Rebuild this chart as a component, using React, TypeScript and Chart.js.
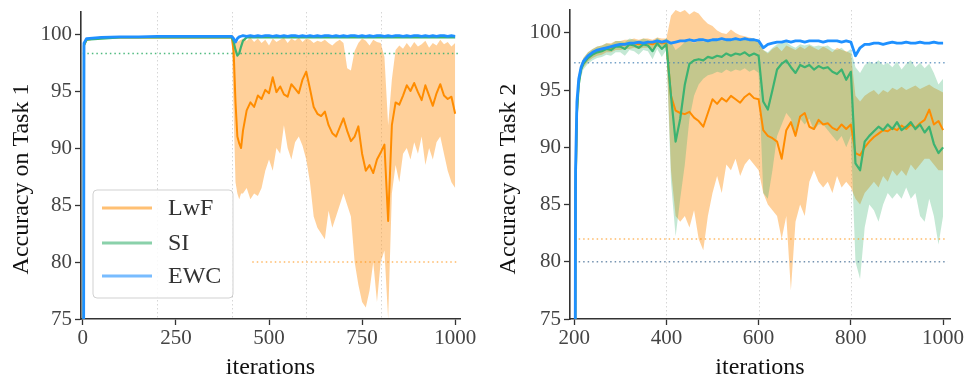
import React, { useEffect, useRef } from 'react';
import { Chart, registerables } from 'chart.js';
Chart.register(...registerables);

// ---------------- shared ticks / labels ----------------
const yTicks = [75, 80, 85, 90, 95, 100];
const xTicksT1 = [0, 250, 500, 750, 1000];
const xTicksT2 = [200, 400, 600, 800, 1000];
const seriesNames = ['LwF', 'SI', 'EWC'];
const taskBoundariesT1 = [200, 400, 600, 800];
const taskBoundariesT2 = [400, 600, 800];

// ---------------- Task 1 (left panel) ----------------
const iterT1 = [0, 3, 10, 50, 100, 150, 200, 250, 300, 350, 400, 405, 410, 415, 420, 425,
  430, 440, 450, 460, 470, 480, 490, 500, 510, 520, 530, 540, 550, 560, 570, 580, 590, 600,
  610, 620, 630, 640, 650, 660, 670, 680, 690, 700, 710, 720, 730, 740, 750, 760, 770, 780, 790, 800,
  810, 820, 830, 840, 850, 860, 870, 880, 890, 900, 910, 920, 930, 940, 950, 960, 970, 980, 990, 1000];

const ewcT1 = [10, 99.2, 99.6, 99.7, 99.75, 99.75, 99.8, 99.8, 99.8, 99.8, 99.8, 99.6, 99.3, 99.6, 99.75, 99.8,
  99.85, 99.8, 99.85, 99.8, 99.85, 99.8, 99.85, 99.85, 99.8, 99.85, 99.8, 99.85, 99.8, 99.85, 99.85, 99.8, 99.85, 99.8,
  99.85, 99.8, 99.85, 99.8, 99.85, 99.85, 99.8, 99.85, 99.8, 99.85, 99.8, 99.85, 99.85, 99.8, 99.85, 99.8, 99.85, 99.8, 99.85, 99.85,
  99.8, 99.85, 99.8, 99.85, 99.85, 99.8, 99.85, 99.8, 99.85, 99.85, 99.8, 99.85, 99.8, 99.85, 99.8, 99.85, 99.85, 99.8, 99.85, 99.8];

const siT1 = [10, 99.0, 99.5, 99.6, 99.7, 99.7, 99.7, 99.7, 99.7, 99.7, 99.7, 99.3, 98.6, 98.1, 98.3, 98.9,
  99.4, 99.7, 99.7, 99.7, 99.7, 99.7, 99.7, 99.7, 99.7, 99.7, 99.7, 99.7, 99.7, 99.7, 99.7, 99.7, 99.7, 99.7,
  99.7, 99.7, 99.7, 99.7, 99.7, 99.7, 99.7, 99.7, 99.7, 99.7, 99.7, 99.7, 99.7, 99.7, 99.7, 99.7, 99.7, 99.7, 99.7, 99.7,
  99.7, 99.7, 99.7, 99.7, 99.7, 99.7, 99.7, 99.7, 99.7, 99.7, 99.7, 99.7, 99.7, 99.7, 99.7, 99.7, 99.7, 99.7, 99.7, 99.7];

const lwfT1 = [10, 99.0, 99.5, 99.7, 99.7, 99.7, 99.7, 99.7, 99.7, 99.7, 99.7, 98.5, 94.0, 91.0, 90.4, 90.0,
  91.5, 93.3, 94.0, 93.6, 94.6, 94.3, 95.1, 94.8, 96.2, 94.9, 95.4, 94.7, 94.5, 95.6, 95.2, 94.8, 96.0, 96.7,
  95.2, 93.6, 93.0, 92.8, 93.2, 92.0, 91.3, 91.0, 91.8, 92.6, 91.5, 90.6, 91.0, 91.9, 89.5, 88.0, 88.5, 87.8, 89.0, 89.6,
  90.3, 83.6, 92.0, 94.0, 93.8, 94.6, 95.5, 95.0, 95.7, 94.9, 94.2, 95.5, 94.6, 93.7, 94.8, 95.6, 94.6, 94.3, 94.5, 93.0];

const iterT1Band = [400, 405, 410, 415, 420, 425,
  430, 440, 450, 460, 470, 480, 490, 500, 510, 520, 530, 540, 550, 560, 570, 580, 590, 600,
  610, 620, 630, 640, 650, 660, 670, 680, 690, 700, 710, 720, 730, 740, 750, 760, 770, 780, 790, 800,
  810, 820, 830, 840, 850, 860, 870, 880, 890, 900, 910, 920, 930, 940, 950, 960, 970, 980, 990, 1000];

const lwfT1Lo = [99.5, 93, 87, 86, 85.5, 86,
  86, 86.5, 85.5, 86, 85.8, 86.5, 88, 89, 88, 90, 89.5, 92, 90, 89, 90.5, 91, 90.2, 89,
  87, 84, 83, 82.5, 82, 84.5, 83, 84, 85, 86, 85, 84, 80, 78, 76.5, 76, 77.5, 80, 76.5, 80,
  81, 75, 86, 88.5, 87, 89.5, 90, 89, 90.5, 89.5, 91, 88.5, 90, 89, 90.5, 91, 89.5, 88, 87, 86.5];

const lwfT1Hi = [100, 99.8, 99.5, 99.3, 99.4, 99.5,
  99.6, 99.4, 99.7, 99.3, 99.6, 99.2, 99.5, 99.0, 99.6, 99.3, 99.5, 99.7, 99.2, 99.6, 99.4, 99.7, 99.3, 99.6,
  99.5, 99.2, 99.4, 99.3, 99.5, 99.2, 99.0, 99.3, 99.5, 99.2, 97.0, 96.8, 98.5, 99.2, 99.6, 99.4, 99.0, 99.5, 99.3, 99.2,
  98.0, 92.0, 96.0, 98.6, 99.0, 98.7, 99.2, 98.8, 99.3, 98.9, 99.1, 99.4, 98.8, 99.2, 99.0, 99.5, 99.1, 99.3, 98.9, 99.2];

const refLevelsT1 = [98.3, 80];
const refStartT1 = [0, 455];
const refEndT1 = [1010, 1010];

// ---------------- Task 2 (right panel) ----------------
const iterT2 = [200, 203, 206, 210, 215,
  220, 230, 240, 250, 260, 270, 280, 290, 300, 310, 320, 330, 340, 350, 360, 370, 380, 390, 400,
  410, 420, 430, 440, 450, 460, 470, 480, 490, 500, 510, 520, 530, 540, 550, 560, 570, 580, 590, 600,
  610, 620, 630, 640, 650, 660, 670, 680, 690, 700, 710, 720, 730, 740, 750, 760, 770, 780, 790, 800,
  810, 820, 830, 840, 850, 860, 870, 880, 890, 900, 910, 920, 930, 940, 950, 960, 970, 980, 990, 1000];

const ewcT2 = [20, 88, 94, 96, 97.0,
  97.5, 98.0, 98.3, 98.5, 98.6, 98.7, 98.8, 98.9, 99.0, 99.0, 99.1, 99.1, 99.2, 99.1, 99.2, 99.2, 99.3, 99.2, 99.3,
  99.1, 99.2, 99.3, 99.3, 99.4, 99.3, 99.4, 99.4, 99.3, 99.4, 99.4, 99.5, 99.4, 99.4, 99.5, 99.4, 99.5, 99.4, 99.4, 99.3,
  98.7, 99.0, 99.1, 99.2, 99.2, 99.3, 99.2, 99.3, 99.3, 99.2, 99.3, 99.3, 99.3, 99.2, 99.3, 99.3, 99.3, 99.2, 99.3, 99.2,
  98.0, 98.7, 99.0, 99.0, 99.1, 99.1, 99.0, 99.1, 99.2, 99.1, 99.1, 99.2, 99.1, 99.1, 99.2, 99.1, 99.1, 99.2, 99.1, 99.1];

const siT2 = [18, 86, 93, 95.5, 96.8,
  97.3, 97.8, 98.1, 98.3, 98.4, 98.6, 98.5, 98.8, 98.8, 98.6, 99.0, 98.9, 98.7, 99.0, 98.9, 98.4, 99.1, 98.6, 99.0,
  94.5, 90.5, 92.5, 95.5, 97.3, 97.6, 97.7, 97.6, 97.9, 97.8, 98.0, 97.9, 98.2, 98.0, 98.2, 98.1, 98.3, 98.0, 98.2, 98.0,
  94.0, 93.3, 95.0, 96.8, 97.3, 97.6, 97.0, 96.5, 97.2, 97.0, 97.2, 96.8, 97.1, 96.9, 97.0, 96.6, 96.4, 96.8, 95.9, 96.6,
  88.6, 88.0, 90.5, 91.0, 91.4, 91.8, 91.5, 92.0, 91.6, 92.2, 91.5, 91.8, 92.2, 91.6, 92.0, 91.3, 91.8, 90.3, 89.5, 90.0];

const lwfT2 = [18, 86, 93, 95.8, 96.9,
  97.4, 97.9, 98.2, 98.4, 98.5, 98.7, 98.7, 98.9, 98.9, 99.0, 99.0, 99.1, 99.0, 99.1, 99.1, 99.0, 99.2, 99.1, 99.1,
  94.5, 93.2, 93.0, 92.9, 93.1, 92.6, 92.3, 91.8, 93.0, 94.2, 93.8, 94.3, 94.0, 94.5, 94.2, 93.9, 94.4, 94.7, 94.3, 94.2,
  91.5, 91.0, 90.8, 90.5, 89.0, 91.5, 92.2, 91.0, 92.7, 93.0, 91.8, 91.6, 92.4, 92.0, 92.1, 91.7, 91.5, 92.0, 91.6, 92.0,
  89.5, 89.3, 90.0, 90.5, 90.9, 91.2, 91.5, 91.4, 91.7, 91.5, 91.9, 91.6, 92.0, 91.7, 92.1, 92.4, 93.3, 92.0, 92.3, 91.5];

const lwfT2Lo = [15, 84, 92, 95.2, 96.5,
  97.0, 97.5, 97.8, 98.0, 98.1, 98.3, 98.3, 98.5, 98.5, 98.6, 98.6, 98.7, 98.6, 98.7, 98.7, 98.6, 98.8, 98.7, 98.7,
  88, 84, 83.5, 84, 83, 84.5, 82, 81, 84, 86, 87.5, 86, 88.5, 88, 89, 87.5, 88.5, 89, 88.5, 88,
  86, 85, 84.5, 84, 82, 84, 77.5, 83.5, 85, 84, 87, 88, 87, 86.5, 87, 86, 87.5, 86.5, 87, 86.5,
  85.5, 85, 86, 86.5, 87, 86.5, 87.5, 87, 88, 87.5, 88, 87.5, 88.5, 88, 88.5, 89, 89, 88.5, 88, 88];

const lwfT2Hi = [22, 88, 94, 96.4, 97.3,
  97.8, 98.3, 98.6, 98.8, 98.9, 99.1, 99.1, 99.3, 99.3, 99.4, 99.4, 99.5, 99.4, 99.5, 99.5, 99.4, 99.6, 99.5, 99.5,
  101.5, 102, 101.8, 102, 101.6, 101.9, 101.7, 101.2, 100.8, 100.6, 100.2, 100.0, 99.9, 100.3, 100.0, 99.8, 99.7, 99.6, 99.5, 99.3,
  98.5, 98.2, 98.6, 98.8, 98.4, 98.9, 98.7, 98.5, 98.8, 98.6, 98.9, 98.7, 98.5, 98.8, 98.6, 98.3, 98.7, 98.5, 98.4, 98.2,
  94.5, 94, 94.5, 94.8, 95, 94.6, 95, 94.8, 95.2, 95, 95.3, 95, 95.2, 95.4, 95.1, 95.3, 95.5, 95.2, 95.0, 94.8];

const siT2Lo = [15, 83, 91.5, 94.8, 96.2,
  96.8, 97.3, 97.6, 97.8, 97.9, 98.1, 98.0, 98.3, 98.3, 98.0, 98.5, 98.4, 98.1, 98.5, 98.4, 97.7, 98.6, 97.9, 98.5,
  87, 82.2, 85.5, 88.5, 92.5, 94.5, 95.5, 96, 96.3, 96.4, 96.6, 96.5, 96.8, 96.6, 96.8, 96.7, 96.9, 96.6, 96.8, 96.5,
  86, 85.5, 88, 91, 92, 93, 92.5, 91, 92.5, 92, 92.5, 91.5, 92, 92, 91.5, 91, 90.5, 91, 90, 91,
  80, 78.5, 83, 85, 84.5, 83.5, 85, 86, 85.5, 86, 85.5, 86.5, 85.5, 86, 84, 83.5, 85.5, 84, 81.5, 84];

const siT2Hi = [21, 88, 94.3, 96.2, 97.3,
  97.8, 98.3, 98.6, 98.8, 98.9, 99.1, 99.0, 99.3, 99.3, 99.2, 99.5, 99.4, 99.3, 99.5, 99.4, 99.1, 99.6, 99.3, 99.5,
  99.2, 98.5, 98.8, 99.2, 99.3, 99.1, 99.3, 99.2, 99.4, 99.3, 99.5, 99.3, 99.5, 99.4, 99.5, 99.4, 99.6, 99.3, 99.5, 99.3,
  98.5, 98.3, 98.7, 99.0, 99.1, 99.2, 98.9, 98.7, 99.0, 98.9, 99.0, 98.8, 98.9, 98.8, 98.9, 98.6, 98.5, 98.7, 98.3, 98.6,
  97, 96.5, 97.2, 97.5, 97.3, 97.6, 97.2, 97.4, 97.0, 97.5, 96.8, 97.3, 97.6, 97.0, 97.4, 96.9, 97.3, 96.5, 95.5, 96];

const refLevelsT2 = [97.4, 82, 80];
const refStartT2 = [200, 200, 200];
const refEndT2 = [1010, 1010, 1010];

// ---------------- styling ----------------
const SERIF = '"Liberation Serif", "DejaVu Serif", serif';
const ORANGE = 'rgb(255,140,0)';
const GREEN = 'rgb(60,179,113)';
const BLUE = 'rgb(30,144,255)';
const ORANGE_FILL = 'rgba(255,150,30,0.45)';
const GREEN_FILL = 'rgba(60,179,113,0.3)';

const zip = (xs: number[], ys: number[]) => {
  const n = Math.min(xs.length, ys.length);
  const out: { x: number; y: number }[] = [];
  for (let i = 0; i < n; i++) out.push({ x: xs[i], y: ys[i] });
  return out;
};

const lineDs = (label: string, xs: number[], ys: number[], color: string, width: number, order: number) => ({
  label, data: zip(xs, ys), borderColor: color, backgroundColor: color, borderWidth: width,
  pointRadius: 0, pointHoverRadius: 0, tension: 0, fill: false, order, borderJoinStyle: 'round' as const,
});

const bandDs = (label: string, xs: number[], lo: number[], hi: number[], fillColor: string, order: number) => [
  { label: label + ' hi', data: zip(xs, hi), borderColor: 'rgba(0,0,0,0)', borderWidth: 0, backgroundColor: fillColor,
    pointRadius: 0, tension: 0, fill: '+1', order },
  { label: label + ' lo', data: zip(xs, lo), borderColor: 'rgba(0,0,0,0)', borderWidth: 0, backgroundColor: fillColor,
    pointRadius: 0, tension: 0, fill: false, order },
];

const refDs = (level: number, x0: number, x1: number, color: string) => ({
  label: 'ref ' + level, data: [{ x: x0, y: level }, { x: x1, y: level }], borderColor: color, borderWidth: 1.5,
  borderDash: [1.5, 3], pointRadius: 0, tension: 0, fill: false, order: 3,
});

const vlinesPlugin = {
  id: 'vlines',
  beforeDatasetsDraw(chart: any, _a: any, opts: any) {
    const { ctx, chartArea, scales } = chart;
    const x = scales.x;
    ctx.save();
    ctx.strokeStyle = 'rgba(0,0,0,0.16)';
    ctx.lineWidth = 1;
    ctx.setLineDash([1.5, 2.5]);
    for (const v of opts.values || []) {
      const px = Math.round(x.getPixelForValue(v)) + 0.5;
      ctx.beginPath();
      ctx.moveTo(px, chartArea.top);
      ctx.lineTo(px, chartArea.bottom);
      ctx.stroke();
    }
    ctx.restore();
  },
};

const yTitlePlugin = {
  id: 'ytitle',
  afterDraw(chart: any, _a: any, opts: any) {
    const { ctx } = chart;
    ctx.save();
    ctx.translate(opts.x, opts.y);
    ctx.rotate(-Math.PI / 2);
    ctx.font = `24px ${SERIF}`;
    ctx.fillStyle = '#111';
    ctx.textAlign = 'center';
    ctx.textBaseline = 'middle';
    ctx.fillText(opts.text, 0, 0);
    ctx.restore();
  },
};

const boxLegendPlugin = {
  id: 'boxLegend',
  afterDatasetsDraw(chart: any, _a: any, opts: any) {
    if (!opts.show) return;
    const { ctx, chartArea } = chart;
    const bx = chartArea.left + 12;
    const by = chartArea.bottom - 129;
    const bw = 140, bh = 108, r = 4;
    ctx.save();
    ctx.beginPath();
    ctx.moveTo(bx + r, by);
    ctx.arcTo(bx + bw, by, bx + bw, by + bh, r);
    ctx.arcTo(bx + bw, by + bh, bx, by + bh, r);
    ctx.arcTo(bx, by + bh, bx, by, r);
    ctx.arcTo(bx, by, bx + bw, by, r);
    ctx.closePath();
    ctx.fillStyle = 'rgba(255,255,255,0.85)';
    ctx.fill();
    ctx.strokeStyle = 'rgba(0,0,0,0.18)';
    ctx.lineWidth = 1;
    ctx.stroke();
    const colors = ['rgba(255,140,0,0.55)', 'rgba(60,179,113,0.6)', 'rgba(30,144,255,0.6)'];
    const rows = [18, 53, 86];
    ctx.font = `24px ${SERIF}`;
    ctx.textBaseline = 'middle';
    ctx.textAlign = 'left';
    seriesNames.forEach((name, i) => {
      const yy = by + rows[i];
      ctx.strokeStyle = colors[i];
      ctx.lineWidth = 3;
      ctx.beginPath();
      ctx.moveTo(bx + 9, yy);
      ctx.lineTo(bx + 59, yy);
      ctx.stroke();
      ctx.fillStyle = '#333';
      ctx.fillText(name, bx + 75, yy + 1);
    });
    ctx.restore();
  },
};

function makeConfig(p: {
  datasets: any[]; xMin: number; xMax: number; yMax: number; xTicks: number[];
  yAxisWidth: number; padRight: number; padTop: number; boundaries: number[]; yTitle: string; legend: boolean;
}) {
  const tickFont = { family: SERIF, size: 21 };
  return {
    type: 'line' as const,
    data: { datasets: p.datasets },
    plugins: [vlinesPlugin, yTitlePlugin, boxLegendPlugin],
    options: {
      responsive: false,
      animation: false as const,
      events: [],
      layout: { padding: { left: 0, right: p.padRight, top: p.padTop, bottom: 0 } },
      plugins: {
        legend: { display: false },
        tooltip: { enabled: false },
        vlines: { values: p.boundaries },
        ytitle: { text: p.yTitle, x: 22, y: 179 },
        boxLegend: { show: p.legend },
      },
      scales: {
        x: {
          type: 'linear' as const,
          min: p.xMin,
          max: p.xMax,
          afterBuildTicks: (s: any) => { s.ticks = p.xTicks.map((v) => ({ value: v })); },
          afterFit: (s: any) => { s.height = 61; s.paddingLeft = 0; s.paddingRight = 0; },
          ticks: { font: tickFont, color: '#444', padding: 1, maxRotation: 0, autoSkip: false, callback: (v: any) => String(v) },
          grid: { drawOnChartArea: false, drawTicks: true, tickLength: 6, tickColor: '#333', tickWidth: 1.3 },
          border: { display: true, color: '#333', width: 1.6 },
          title: { display: true, text: 'iterations', font: { family: SERIF, size: 24, lineHeight: 1 }, color: '#111', padding: 0 },
        },
        y: {
          type: 'linear' as const,
          min: 75,
          max: p.yMax,
          afterBuildTicks: (s: any) => { s.ticks = yTicks.map((v) => ({ value: v })); },
          afterFit: (s: any) => { s.width = p.yAxisWidth; s.paddingTop = 0; s.paddingBottom = 0; },
          ticks: { font: tickFont, color: '#444', padding: 3, autoSkip: false, callback: (v: any) => String(v) },
          grid: { drawOnChartArea: false, drawTicks: true, tickLength: 6, tickColor: '#333', tickWidth: 1.3 },
          border: { display: true, color: '#333', width: 1.6 },
        },
      },
    },
  };
}

function buildT1() {
  const datasets = [
    lineDs('EWC', iterT1, ewcT1, BLUE, 2.8, 0),
    lineDs('SI', iterT1, siT1, GREEN, 2.2, 1),
    lineDs('LwF', iterT1, lwfT1, ORANGE, 2.0, 2),
    refDs(refLevelsT1[0], refStartT1[0], refEndT1[0], 'rgba(60,179,113,0.9)'),
    refDs(refLevelsT1[1], refStartT1[1], refEndT1[1], 'rgba(255,140,0,0.6)'),
    ...bandDs('LwF', iterT1Band, lwfT1Lo, lwfT1Hi, ORANGE_FILL, 5),
  ];
  return makeConfig({ datasets, xMin: -5, xMax: 1013, yMax: 101.93, xTicks: xTicksT1, yAxisWidth: 81,
    padRight: 23, padTop: 12, boundaries: taskBoundariesT1, yTitle: 'Accuracy on Task 1', legend: true });
}

function buildT2() {
  const datasets = [
    lineDs('EWC', iterT2, ewcT2, BLUE, 2.8, 0),
    lineDs('SI', iterT2, siT2, GREEN, 2.2, 1),
    lineDs('LwF', iterT2, lwfT2, ORANGE, 2.0, 2),
    refDs(refLevelsT2[0], refStartT2[0], refEndT2[0], 'rgba(70,130,180,0.75)'),
    refDs(refLevelsT2[1], refStartT2[1], refEndT2[1], 'rgba(255,140,0,0.6)'),
    refDs(refLevelsT2[2], refStartT2[2], refEndT2[2], 'rgba(70,110,150,0.75)'),
    ...bandDs('SI', iterT2, siT2Lo, siT2Hi, GREEN_FILL, 4),
    ...bandDs('LwF', iterT2, lwfT2Lo, lwfT2Hi, ORANGE_FILL, 5),
  ];
  return makeConfig({ datasets, xMin: 191, xMax: 1015, yMax: 102.0, xTicks: xTicksT2, yAxisWidth: 83,
    padRight: 17, padTop: 10, boundaries: taskBoundariesT2, yTitle: 'Accuracy on Task 2', legend: false });
}

function ChartCanvas({ build, left, width }: { build: () => any; left: number; width: number }) {
  const ref = useRef<HTMLCanvasElement | null>(null);
  useEffect(() => {
    if (!ref.current) return;
    const chart = new Chart(ref.current, build());
    return () => chart.destroy();
  }, [build]);
  return (
    <canvas ref={ref} width={width} height={380}
      style={{ position: 'absolute', left, top: 0, width, height: 380 }} />
  );
}

export default function App() {
  return (
    <div style={{ position: 'fixed', left: 0, top: 0, width: 967, height: 380, background: '#fff', overflow: 'hidden' }}>
      <ChartCanvas build={buildT1} left={0} width={483} />
      <ChartCanvas build={buildT2} left={487} width={480} />
    </div>
  );
}
